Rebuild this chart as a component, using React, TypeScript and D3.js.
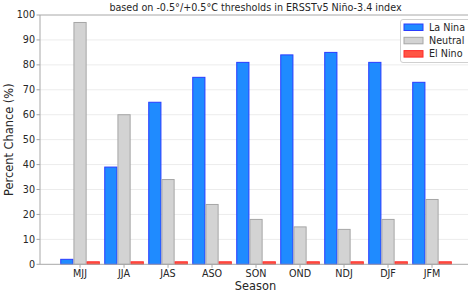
import * as d3 from "d3";

const seasons = ["MJJ", "JJA", "JAS", "ASO", "SON", "OND", "NDJ", "DJF", "JFM"];
const laNina = [2, 39, 65, 75, 81, 84, 85, 81, 73];
const neutral = [97, 60, 34, 24, 18, 15, 14, 18, 26];
const elNino = [1, 1, 1, 1, 1, 1, 1, 1, 1];
const yTicks = [0, 10, 20, 30, 40, 50, 60, 70, 80, 90, 100];

const series = [
  { name: "La Nina", values: laNina, fill: "#1f8bff", stroke: "#2a3cff" },
  { name: "Neutral", values: neutral, fill: "#d3d3d3", stroke: "#a6a6a6" },
  { name: "El Nino", values: elNino, fill: "#ff5544", stroke: "#ff2a2a" },
];

const W = 468;
const H = 293;
const left = 40;
const right = 471;
const top = 15;
const bottom = 264.3;
const font = "DejaVu Sans, sans-serif";
const textColor = "#262626";
const spine = "#a8a8a8";

export default function App() {
  const x = d3.scaleLinear().domain([-0.91, 8.886]).range([left, right]);
  const y = d3.scaleLinear().domain([0, 100]).range([bottom, top]);
  const bw = 0.3;

  return (
    <svg
      width={W}
      height={H}
      style={{ position: "absolute", left: 0, top: 0, background: "#fff" }}
      fontFamily={font}
    >
      {/* grid */}
      {yTicks.slice(1, -1).map((t) => (
        <line key={t} x1={left} x2={right} y1={y(t)} y2={y(t)} stroke="#ececec" strokeWidth={1} />
      ))}

      {/* bars */}
      {series.map((s, si) =>
        s.values.map((v, i) => {
          const x0 = x(i + (si - 1) * bw - bw / 2);
          const x1 = x(i + (si - 1) * bw + bw / 2);
          return (
            <rect
              key={s.name + i}
              x={x0 + 0.5}
              y={y(v)}
              width={x1 - x0 - 1}
              height={y(0) - y(v)}
              fill={s.fill}
              stroke={s.stroke}
              strokeWidth={1}
            />
          );
        })
      )}

      {/* spines */}
      <line x1={left} x2={left} y1={top} y2={bottom} stroke={spine} strokeWidth={1} />
      <line x1={left} x2={right} y1={bottom} y2={bottom} stroke={spine} strokeWidth={1} />
      <line x1={left} x2={right} y1={top} y2={top} stroke={spine} strokeWidth={1} />

      {/* y ticks */}
      {yTicks.map((t) => (
        <g key={t}>
          <line x1={left - 3.5} x2={left} y1={y(t)} y2={y(t)} stroke={spine} />
          <text x={left - 5} y={y(t)} dy="0.35em" textAnchor="end" fontSize={9.6} fill={textColor}>
            {t}
          </text>
        </g>
      ))}

      {/* x ticks */}
      {seasons.map((s, i) => (
        <g key={s}>
          <line x1={x(i)} x2={x(i)} y1={bottom} y2={bottom + 3.5} stroke={spine} />
          <text x={x(i)} y={bottom + 12.5} textAnchor="middle" fontSize={9.6} fill={textColor}>
            {s}
          </text>
        </g>
      ))}

      {/* labels */}
      <text x={255.5} y={290} textAnchor="middle" fontSize={11.4} fill={textColor}>
        Season
      </text>
      <text
        transform={`translate(12.5,${(top + bottom) / 2}) rotate(-90)`}
        textAnchor="middle"
        fontSize={11.4}
        fill={textColor}
      >
        Percent Chance (%)
      </text>
      <text x={255.5} y={11} textAnchor="middle" fontSize={9.6} fill={textColor}>
        based on -0.5°/+0.5°C thresholds in ERSSTv5 Niño-3.4 index
      </text>

      {/* legend */}
      <rect x={400.5} y={19.5} width={80} height={43} rx={2.5} fill="#fff" fillOpacity={0.85} stroke="#d0d0d0" />
      {series.map((s, i) => (
        <g key={s.name}>
          <rect x={404} y={24 + i * 13.3} width={19} height={6.5} fill={s.fill} stroke={s.stroke} />
          <text x={429} y={27.3 + i * 13.3} dy="0.35em" fontSize={9.6} fill={textColor}>
            {s.name}
          </text>
        </g>
      ))}
    </svg>
  );
}
